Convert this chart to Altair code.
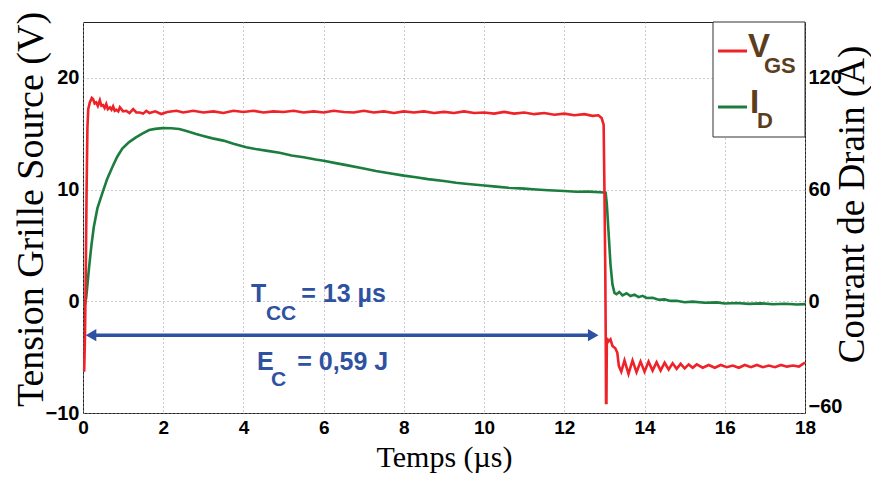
import altair as alt
import pandas as pd

# ---------------- data ----------------
red_t = [0.02, 0.03, 0.05, 0.07, 0.09, 0.11, 0.13, 0.17, 0.22, 0.25, 0.29, 0.33, 0.37, 0.42,
         0.46, 0.50, 0.54, 0.58, 0.62, 0.67, 0.71, 0.75, 0.79, 0.83, 0.88, 0.92, 1.00, 1.08,
         1.16, 1.25, 1.33, 1.41, 1.50, 1.58, 1.66, 1.80, 1.95, 2.10, 2.33,
         2.50, 2.75, 3.00, 3.25, 3.50, 3.75, 4.00, 4.25, 4.50, 4.75, 5.00, 5.25, 5.50, 5.75,
         6.00, 6.25, 6.50, 6.75, 7.00, 7.25, 7.50, 7.75, 8.00, 8.25, 8.50, 8.75, 9.00, 9.25,
         9.50, 9.75, 10.00, 10.25, 10.50, 10.75, 11.00, 11.25, 11.50, 11.75, 12.00, 12.25,
         12.50, 12.70, 12.85, 12.93, 12.98, 13.00, 13.02, 13.03, 13.04, 13.05, 13.06, 13.10,
         13.15, 13.20, 13.27, 13.32, 13.36, 13.42, 13.50, 13.60, 13.70, 13.80, 13.90, 14.00,
         14.10, 14.20, 14.30, 14.40, 14.50, 14.60, 14.70, 14.80, 14.90, 15.00, 15.10, 15.20,
         15.30, 15.45, 15.60, 15.75, 15.90, 16.05, 16.20, 16.35, 16.50, 16.65, 16.80, 16.95,
         17.10, 17.25, 17.40, 17.55, 17.70, 17.85, 17.95, 18.00]
red_v = [-6.2, -6.2, -3.0, 3.0, 10.0, 15.5, 17.2, 17.8, 18.2, 18.1, 17.7, 17.8, 17.5, 18.0,
         17.5, 17.56, 17.3, 17.65, 17.2, 17.36, 17.15, 17.45, 17.05, 17.14, 17.0, 17.36, 17.0, 17.05,
         16.85, 17.2, 16.9, 16.9, 16.8, 17.05, 16.85, 17.0, 16.76, 16.95, 17.05,
         16.9, 17.05, 16.9, 17.0, 16.85, 17.05, 16.95, 17.05, 16.9, 17.0, 16.95, 17.05, 16.9, 17.0,
         16.9, 17.05, 16.95, 16.9, 17.05, 16.9, 17.0, 16.85, 17.0, 16.9, 17.0, 16.85, 16.95, 16.85,
         17.0, 16.85, 16.9, 16.8, 16.95, 16.8, 16.9, 16.75, 16.85, 16.7, 16.8, 16.65,
         16.75, 16.6, 16.65, 16.4, 15.8, 10.0, 3.0, -2.0, -9.1, -9.1, -3.3, -3.6,
         -3.4, -4.0, -4.2, -4.6, -5.8, -6.3, -5.3, -6.5, -5.3, -6.35, -5.4, -6.3,
         -5.4, -6.2, -5.45, -6.2, -5.5, -6.1, -5.55, -6.05, -5.6, -6.0, -5.65, -5.95,
         -5.65, -5.95, -5.7, -5.95, -5.7, -5.9, -5.75, -5.95, -5.7, -5.9, -5.7, -5.9,
         -5.75, -5.9, -5.7, -5.85, -5.75, -5.85, -5.6, -5.5]

green_t = [0.00, 0.05, 0.08, 0.15, 0.21, 0.27, 0.36, 0.48, 0.60, 0.73, 0.85, 0.98, 1.15, 1.32,
           1.50, 1.65, 1.80, 1.98, 2.20, 2.40, 2.60, 2.82, 3.00, 3.23, 3.50, 3.75, 4.07, 4.30,
           4.60, 4.90, 5.20, 5.50, 5.80, 6.00, 6.30, 6.60, 7.00, 7.30, 7.60, 8.00, 8.30, 8.60,
           9.00, 9.30, 9.60, 10.00, 10.30, 10.60, 11.00, 11.30, 11.60, 12.00, 12.30, 12.60,
           12.90, 13.03, 13.06, 13.10, 13.15, 13.20, 13.25, 13.30, 13.37, 13.45, 13.55, 13.65,
           13.75, 13.85, 13.95, 14.05, 14.20, 14.35, 14.50, 14.65, 14.80, 15.00, 15.20, 15.50,
           15.80, 16.00, 16.30, 16.60, 16.90, 17.20, 17.50, 17.80, 18.00]
green_a = [-1.5, -1.5, 2.0, 18.0, 30.0, 40.0, 50.0, 58.0, 65.5, 72.0, 77.5, 82.0, 85.5, 88.0,
           90.3, 92.0, 92.6, 93.0, 92.9, 92.5, 91.3, 89.8, 88.8, 87.5, 86.3, 84.6, 82.7, 81.8,
           80.8, 79.8, 78.3, 77.4, 76.2, 75.5, 74.2, 73.0, 71.3, 70.0, 68.9, 67.5, 66.6, 65.6,
           64.6, 63.7, 63.0, 62.2, 61.6, 61.0, 60.5, 60.0, 59.6, 59.2, 58.8, 58.9,
           58.6, 58.3, 52.0, 38.0, 20.0, 9.0, 4.5, 3.8, 5.0, 3.2, 4.3, 2.8,
           3.6, 2.2, 2.9, 1.8, 1.9, 0.8, 1.0, 0.2, 0.3, -0.5, -0.2, -0.8,
           -0.6, -1.2, -0.9, -1.4, -1.1, -1.6, -1.3, -1.7, -1.5]

x_ticks = [0, 2, 4, 6, 8, 10, 12, 14, 16, 18]
v_ticks = [-10, 0, 10, 20]
a_ticks = [-60, 0, 60, 120]

# annotation texts (Tcc / Ec)
ann_text = ["T", "CC", "= 13 µs", "E", "C", "= 0,59 J"]
ann_t = [4.19, 4.56, 5.44, 4.34, 4.69, 5.34]
ann_v = [-0.1, -1.7, -0.1, -6.16, -7.6, -6.16]
ann_fs = [25, 21, 25, 25, 21, 25]

arrow_t = [0.2, 12.72]
arrow_v = -3.04

RED = "#ee2229"
GREEN = "#1b7d3e"
BLUE = "#2f51a1"
BROWN = "#5c3d1e"

W, H = 722, 391

red_df = pd.DataFrame({"t": red_t, "v": red_v})
green_df = pd.DataFrame({"t": green_t, "a": green_a})
ann_df = pd.DataFrame({"t": ann_t, "v": ann_v, "txt": ann_text, "fs": ann_fs})
arrow_df = pd.DataFrame({"t1": [arrow_t[0]], "t2": [arrow_t[1]], "v": [arrow_v]})
headL_df = pd.DataFrame({"t": [arrow_t[0]], "v": [arrow_v]})
headR_df = pd.DataFrame({"t": [arrow_t[1]], "v": [arrow_v]})
one = pd.DataFrame({"k": [0]})

xscale = alt.Scale(domain=[0, 18], nice=False, zero=False)
vscale = alt.Scale(domain=[-10, 25], nice=False, zero=False)
ascale = alt.Scale(domain=[-60, 150], nice=False, zero=False)

xaxis = alt.Axis(values=x_ticks, grid=True, labelPadding=5, labelFontSize=19,
                 title="Temps (µs)", titleFontSize=30, titleY=53, titleBaseline="alphabetic")


def X(field):
    return alt.X(field, scale=xscale, axis=xaxis)


green = alt.Chart(green_df).mark_line(color=GREEN, strokeWidth=2.6).encode(
    x=X("t:Q"),
    y=alt.Y("a:Q", scale=ascale,
            axis=alt.Axis(orient="right", values=a_ticks, grid=False, labelPadding=3,
                          labelFlush=True, labelFlushOffset=3,
                          title="Courant de Drain (A)", titleAngle=270, titleX=58, titleY=182,
                          titleFontSize=37, titleAlign="center", titleBaseline="alphabetic")),
)

yaxis = alt.Axis(orient="left", values=v_ticks, grid=True, labelPadding=4,
                 title="Tension Grille Source (V)", titleAngle=270, titleX=-41,
                 titleY=187, titleFontSize=38, titleAlign="center", titleBaseline="alphabetic")


def Y(field):
    return alt.Y(field, scale=vscale, axis=yaxis)


red = alt.Chart(red_df).mark_line(color=RED, strokeWidth=2.6).encode(
    x=X("t:Q"), y=Y("v:Q"))

arrow = alt.Chart(arrow_df).mark_rule(color=BLUE, strokeWidth=3.5).encode(
    x=X("t1:Q"), x2="t2:Q", y=Y("v:Q"))

headL = alt.Chart(headL_df).mark_point(shape="triangle-left", filled=True, color=BLUE,
                                        opacity=1, size=150).encode(x=X("t:Q"), y=Y("v:Q"))
headR = alt.Chart(headR_df).mark_point(shape="triangle-right", filled=True, color=BLUE,
                                        opacity=1, size=150).encode(x=X("t:Q"), y=Y("v:Q"))

ann = alt.Chart(ann_df).mark_text(color=BLUE, font="Liberation Sans", fontWeight="bold",
                                  align="left", baseline="alphabetic").encode(
    x=X("t:Q"), y=Y("v:Q"),
    text="txt:N", size=alt.Size("fs:Q", scale=None))

# legend box (top-right corner of the plot)
leg_box = alt.Chart(one).mark_rect(fill="white", stroke="#333", strokeWidth=1).encode(
    x=alt.value(630), x2=alt.value(W), y=alt.value(0), y2=alt.value(115))
leg_red = alt.Chart(one).mark_rule(color=RED, strokeWidth=3).encode(
    x=alt.value(635), x2=alt.value(664), y=alt.value(29))
leg_green = alt.Chart(one).mark_rule(color=GREEN, strokeWidth=3).encode(
    x=alt.value(635), x2=alt.value(664), y=alt.value(85))
leg_txt = []
for txt, px, py, fs in [("V", 665, 35, 33), ("GS", 681, 51, 22), ("I", 667, 91, 33), ("D", 674, 106, 22)]:
    leg_txt.append(alt.Chart(one).mark_text(text=txt, color=BROWN, font="Liberation Sans",
                                            fontWeight="bold", fontSize=fs, align="left",
                                            baseline="alphabetic").encode(
        x=alt.value(px), y=alt.value(py)))

left_layer = alt.layer(red, arrow, headL, headR, ann, leg_box, leg_red, leg_green, *leg_txt)

chart = alt.layer(green, left_layer).resolve_scale(y="independent").properties(
    width=W, height=H,
    autosize=alt.AutoSizeParams(type="none"),
    padding={"left": 75, "top": 14, "right": 66, "bottom": 60},
).configure_view(stroke="#222", strokeWidth=1).configure_axis(
    labelFont="Liberation Sans", labelFontWeight="bold", labelFontSize=20, labelColor="black",
    labelFlush=False,
    titleFont="Liberation Serif", titleFontWeight="normal", titleColor="black",
    domain=False, ticks=False, gridColor="#999999", gridDash=[1, 3], gridWidth=1,
)

chart.save("out.html", embed_options={"renderer": "svg", "actions": False})
